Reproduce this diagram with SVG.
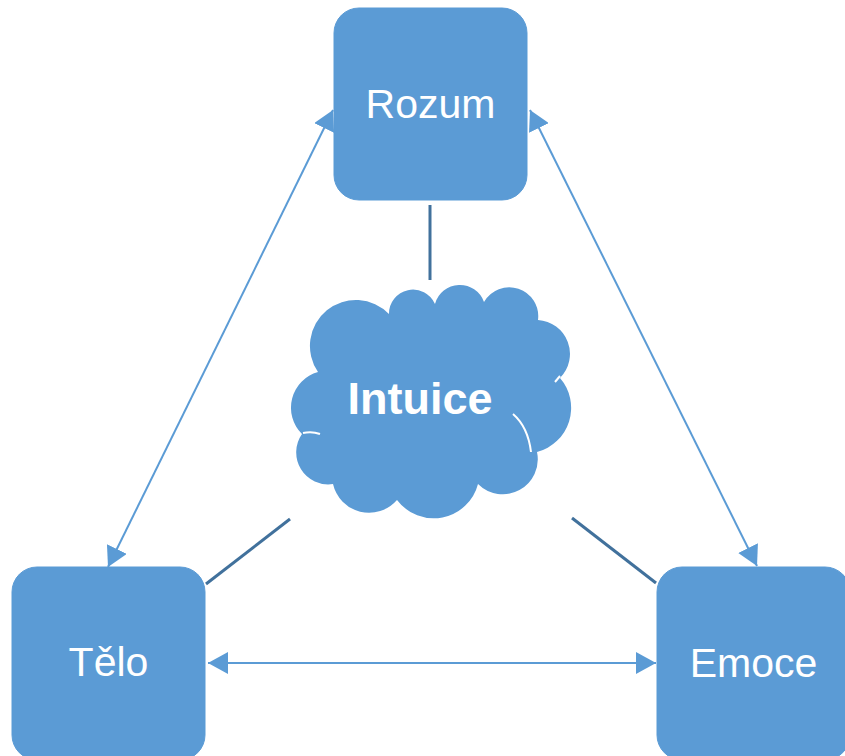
<svg xmlns="http://www.w3.org/2000/svg" width="845" height="756" viewBox="0 0 845 756">
<style>
.box{fill:#5b9bd5;stroke:#5b9bd5;stroke-width:1}
.lbl{font-family:"Liberation Sans",Arial,sans-serif;font-size:41px;fill:#ffffff;text-anchor:middle}
.blbl{font-family:"Liberation Sans",Arial,sans-serif;font-size:45px;font-weight:bold;fill:#ffffff;text-anchor:middle}
.arr{stroke:#5b9bd5;stroke-width:2;fill:none;marker-start:url(#ah);marker-end:url(#ah)}
.dark{stroke:#41719c;stroke-width:3;fill:none}
.hl{stroke:#ffffff;stroke-width:2;fill:none}
</style>
<defs>
<marker id="ah" markerUnits="userSpaceOnUse" markerWidth="20" markerHeight="22" viewBox="0 0 20 22" refX="20" refY="11" orient="auto-start-reverse">
<path d="M0,0 L20,11 L0,22 z" fill="#5b9bd5"/>
</marker>
</defs>
<rect width="845" height="756" fill="#ffffff"/>
<g id="connectors">
<line class="dark" x1="430" y1="205" x2="430" y2="280"/>
<line class="dark" x1="206" y1="584" x2="290" y2="519"/>
<line class="dark" x1="572" y1="518" x2="656" y2="583"/>
<line class="arr" x1="333" y1="110" x2="108" y2="567"/>
<line class="arr" x1="530" y1="110" x2="757" y2="566"/>
<line class="arr" x1="208" y1="663" x2="656" y2="663"/>
</g>
<g id="rozum">
<rect class="box" x="334" y="8" width="193" height="192" rx="25"/>
<text class="lbl" x="430.5" y="118">Rozum</text>
</g>
<g id="telo">
<rect class="box" x="12" y="567" width="193" height="193" rx="25"/>
<text class="lbl" x="108.5" y="676">Tělo</text>
</g>
<g id="emoce">
<rect class="box" x="657" y="567" width="193" height="193" rx="25"/>
<text class="lbl" x="753.5" y="677">Emoce</text>
</g>
<g id="intuice">
<path fill="#5b9bd5" d="M318,372 A46,46 0 0 1 389,314 A24,24 0 0 1 435,304 A25.7,25.7 0 0 1 484,302 A29,29 0 0 1 538,320 A34,34 0 0 1 560,378 A45.6,45.6 0 0 1 537,452 A35,35 0 0 1 478,484 A45.8,45.8 0 0 1 397,500 A37,37 0 0 1 333,484 A32,32 0 0 1 302,434 A37,37 0 0 1 318,372 Z"/>
<path class="hl" d="M303,433 Q312,431 320,434"/>
<path class="hl" d="M513,414 Q528,427 531,452"/>
<path class="hl" d="M555,382 L560,376"/>
<text class="blbl" x="420" y="414">Intuice</text>
</g>
</svg>
